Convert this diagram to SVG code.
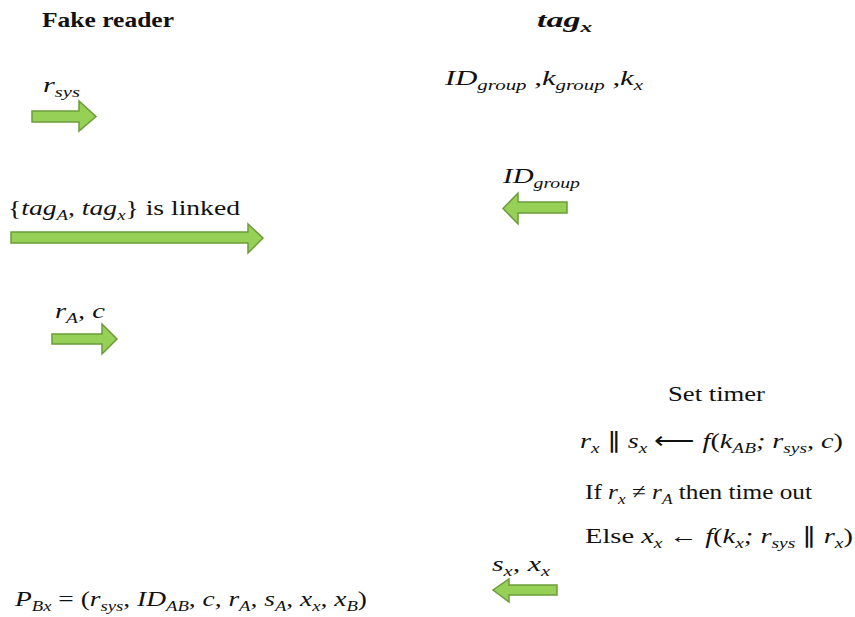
<svg xmlns="http://www.w3.org/2000/svg" width="855" height="617" viewBox="0 0 855 617">
<style>
.arrow{fill:#96d056;stroke:#6c9c3a;stroke-width:1.5;stroke-linejoin:miter}
.t{font-family:"Liberation Serif",serif;font-size:22px;fill:#111}
.m{font-family:"Liberation Serif",serif;font-style:italic;font-size:22px;fill:#111}
.s{font-size:15px}
.b{font-weight:bold}
.n{font-style:normal}
.i{font-style:italic}
</style>
<rect width="855" height="617" fill="#fff"/>
<g id="connectors">
  <path id="a1" class="arrow" d="M32,111 H79 V101 L96,116.5 L79,131 V122 H32 Z"/>
  <path id="a2" class="arrow" d="M11,232 H248 V224 L263,238 L248,253 V243 H11 Z"/>
  <path id="a3" class="arrow" d="M52,334 H102 V324 L117,339 L102,354 V344 H52 Z"/>
  <path id="a4" class="arrow" d="M567,202 H518 V193 L503,208.5 L518,224 V213 H567 Z"/>
  <path id="a5" class="arrow" d="M557,585 H509 V579 L493,590 L509,602 V595 H557 Z"/>
</g>
<g id="fake-reader">
  <text class="t b" x="42" y="27" textLength="132" lengthAdjust="spacingAndGlyphs">Fake reader</text>
</g>
<g id="tagx">
  <text class="m b" x="537" y="27" font-size="24" textLength="55" lengthAdjust="spacingAndGlyphs">tag<tspan class="s" dy="5" font-size="17">x</tspan></text>
  <text class="m" x="445" y="85" textLength="198" lengthAdjust="spacingAndGlyphs">ID<tspan class="s" dy="5">group</tspan><tspan dy="-5"> ,</tspan>k<tspan class="s" dy="5">group</tspan><tspan dy="-5"> ,</tspan>k<tspan class="s" dy="5">x</tspan></text>
</g>
<g id="labels">
  <text class="m" x="43" y="92" textLength="37" lengthAdjust="spacingAndGlyphs">r<tspan class="s" dy="5">sys</tspan></text>
  <text class="m" x="503" y="183" textLength="77" lengthAdjust="spacingAndGlyphs">ID<tspan class="s" dy="5">group</tspan></text>
  <text class="m" x="8" y="215" textLength="232" lengthAdjust="spacingAndGlyphs"><tspan class="n">{</tspan>tag<tspan class="s" dy="5">A</tspan><tspan dy="-5">, tag</tspan><tspan class="s" dy="5">x</tspan><tspan dy="-5" class="n">} is linked</tspan></text>
  <text class="m" x="55" y="318" textLength="50" lengthAdjust="spacingAndGlyphs">r<tspan class="s" dy="5">A</tspan><tspan dy="-5">, c</tspan></text>
  <text class="m" x="492" y="571" textLength="58" lengthAdjust="spacingAndGlyphs">s<tspan class="s" dy="5">x</tspan><tspan dy="-5">, x</tspan><tspan class="s" dy="5">x</tspan></text>
</g>
<g id="tag-process">
  <text class="t" x="668" y="401" textLength="97" lengthAdjust="spacingAndGlyphs">Set timer</text>
  <text class="m" x="580" y="448" textLength="263" lengthAdjust="spacingAndGlyphs">r<tspan class="s" dy="5">x</tspan><tspan dy="-5" class="n"> ∥ </tspan>s<tspan class="s" dy="5">x</tspan><tspan dy="-5" class="n"> ⟵ </tspan>f<tspan class="n">(</tspan>k<tspan class="s" dy="5">AB</tspan><tspan dy="-5">; r</tspan><tspan class="s" dy="5">sys</tspan><tspan dy="-5">, c</tspan><tspan class="n">)</tspan></text>
  <text class="t" x="585" y="499" textLength="227" lengthAdjust="spacingAndGlyphs">If <tspan class="i">r</tspan><tspan class="i s" dy="5">x</tspan><tspan dy="-5"> ≠ </tspan><tspan class="i">r</tspan><tspan class="i s" dy="5">A</tspan><tspan dy="-5"> then time out</tspan></text>
  <text class="t" x="585" y="543" textLength="268" lengthAdjust="spacingAndGlyphs">Else <tspan class="i">x</tspan><tspan class="i s" dy="5">x</tspan><tspan dy="-5"> ← </tspan><tspan class="i">f</tspan>(<tspan class="i">k</tspan><tspan class="i s" dy="5">x</tspan><tspan class="i" dy="-5">; r</tspan><tspan class="i s" dy="5">sys</tspan><tspan dy="-5"> ∥ </tspan><tspan class="i">r</tspan><tspan class="i s" dy="5">x</tspan><tspan dy="-5">)</tspan></text>
</g>
<g id="result">
  <text class="m" x="15" y="606" textLength="352" lengthAdjust="spacingAndGlyphs">P<tspan class="s" dy="5">Bx</tspan><tspan dy="-5" class="n"> = (</tspan>r<tspan class="s" dy="5">sys</tspan><tspan dy="-5">, ID</tspan><tspan class="s" dy="5">AB</tspan><tspan dy="-5">, c, r</tspan><tspan class="s" dy="5">A</tspan><tspan dy="-5">, s</tspan><tspan class="s" dy="5">A</tspan><tspan dy="-5">, x</tspan><tspan class="s" dy="5">x</tspan><tspan dy="-5">, x</tspan><tspan class="s" dy="5">B</tspan><tspan dy="-5" class="n">)</tspan></text>
</g>
</svg>
